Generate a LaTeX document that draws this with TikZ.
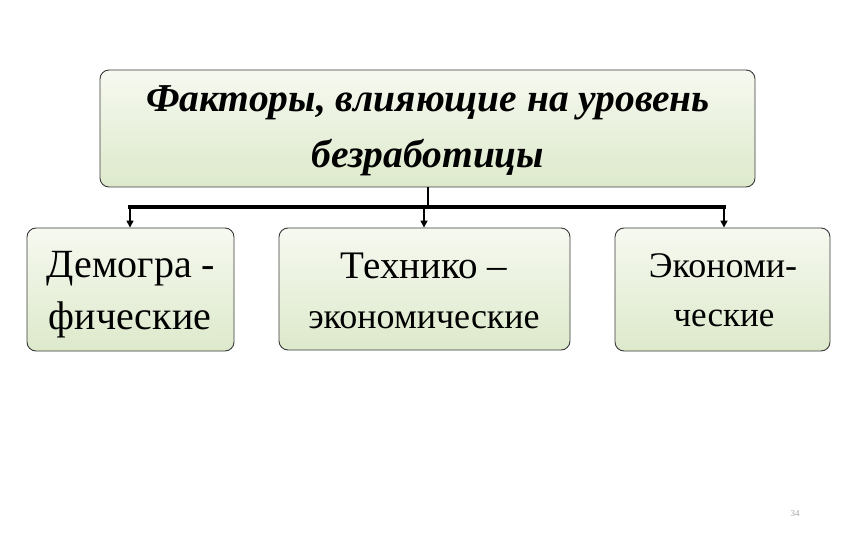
\documentclass[tikz,border=0pt]{standalone}
\usepackage{fontspec}
\setmainfont{Liberation Serif}
\usetikzlibrary{arrows.meta,shadows}
\definecolor{gtop}{HTML}{F6F9F0}
\definecolor{gbot}{HTML}{DDE9CB}
\definecolor{edge}{HTML}{3A3A3A}
\tikzset{
  box/.style={draw=edge, line width=0.9pt, rounded corners=9pt, top color=gtop, bottom color=gbot, inner sep=0pt, align=center},
  txt/.style={anchor=base, inner sep=0pt},
  stem/.style={line width=2.2pt, black},
  bar/.style={line width=4pt, black},
  feed/.style={line width=1.6pt, black, -{Triangle[length=7pt,width=7pt]}}
}
\begin{document}
\begin{tikzpicture}[x=1pt,y=-1pt]
\useasboundingbox[fill=white] (0,0) rectangle (851,540);
\node[box, minimum width=655pt, minimum height=117pt] (top) at (427.5,128.5) {};
\node[txt, font=\fontsize{39.5}{44}\selectfont\bfseries\itshape] (t1) at (428,112) {Факторы, влияющие на уровень};
\node[txt, font=\fontsize{39.5}{44}\selectfont\bfseries\itshape] (t2) at (428,168) {безработицы};
\node[box, minimum width=207pt, minimum height=123pt] (a) at (130.5,289.5) {};
\node[box, minimum width=291pt, minimum height=122pt] (b) at (424.5,289) {};
\node[box, minimum width=215pt, minimum height=123pt] (c) at (722.5,289.5) {};
\node[txt, font=\fontsize{40}{44}\selectfont] (a1) at (131,277) {Демогра -};
\node[txt, font=\fontsize{40}{44}\selectfont] (a2) at (130,329) {фические};
\node[txt, font=\fontsize{39}{44}\selectfont] (b1) at (424,278) {Технико –};
\node[txt, font=\fontsize{36}{40}\selectfont] (b2) at (424,328) {экономические};
\node[txt, font=\fontsize{36}{40}\selectfont] (c1) at (723,277) {Экономи-};
\node[txt, font=\fontsize{35}{40}\selectfont] (c2) at (724,326) {ческие};
\coordinate (j) at (428,207);
\coordinate (l) at (130,207);
\coordinate (r) at (724,207);
\coordinate (m) at (424,207);
\draw[stem] (top.south -| j) -- (j);
\draw[bar] ([xshift=-2pt]l) -- ([xshift=2pt]r);
\draw[feed] (l) -- (a.north -| l);
\draw[feed] (m) -- (b.north -| m);
\draw[feed] (r) -- (c.north -| r);
\node[font=\fontsize{9}{10}\selectfont, text=gray!70] (pg) at (795,514) {34};
\end{tikzpicture}
\end{document}
